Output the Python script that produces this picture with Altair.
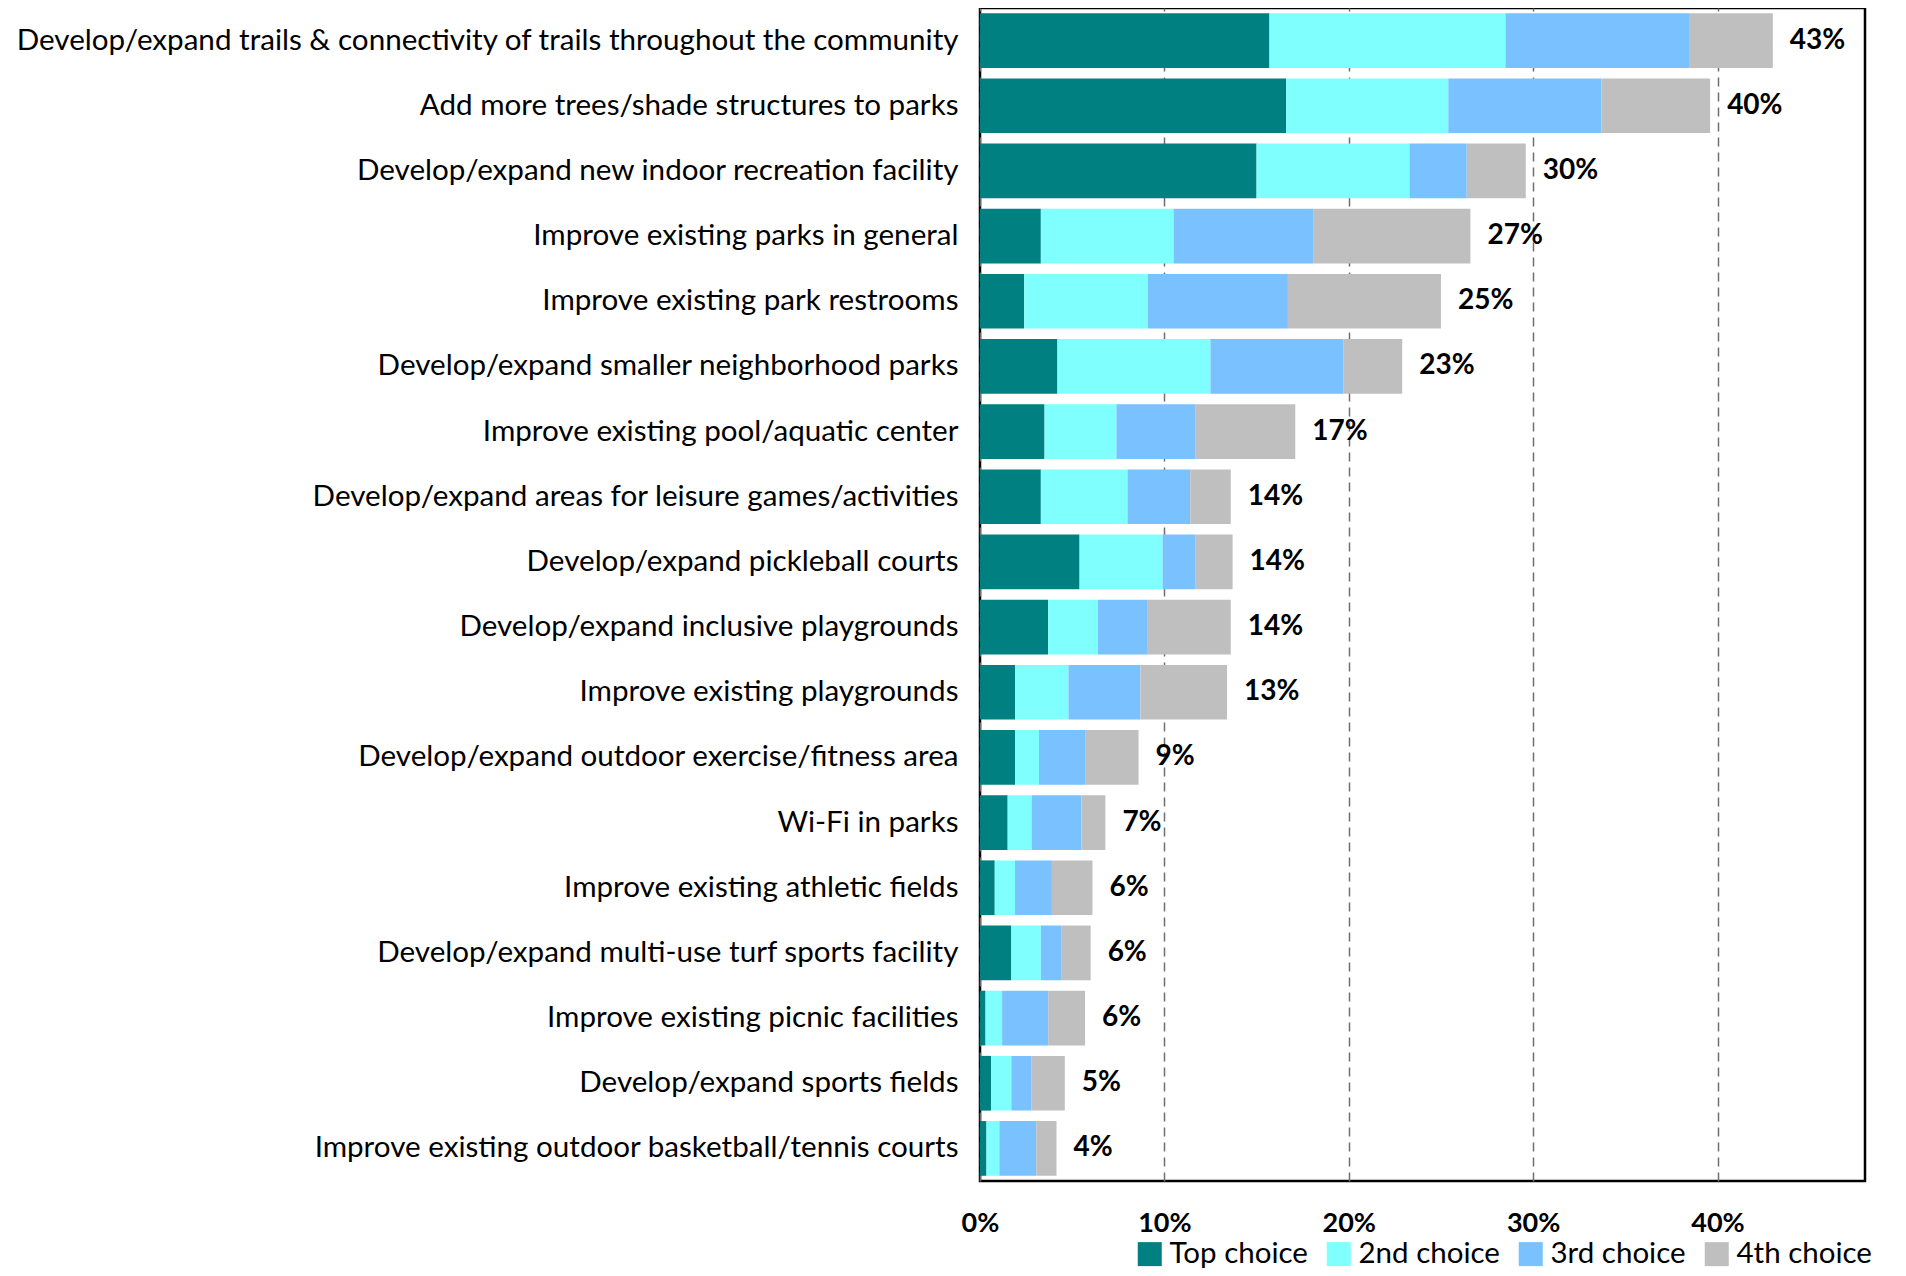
import altair as alt
import pandas as pd

categories = [
    "Develop/expand trails & connectivity of trails throughout the community",
    "Add more trees/shade structures to parks",
    "Develop/expand new indoor recreation facility",
    "Improve existing parks in general",
    "Improve existing park restrooms",
    "Develop/expand smaller neighborhood parks",
    "Improve existing pool/aquatic center",
    "Develop/expand areas for leisure games/activities",
    "Develop/expand pickleball courts",
    "Develop/expand inclusive playgrounds",
    "Improve existing playgrounds",
    "Develop/expand outdoor exercise/fitness area",
    "Wi-Fi in parks",
    "Improve existing athletic fields",
    "Develop/expand multi-use turf sports facility",
    "Improve existing picnic facilities",
    "Develop/expand sports fields",
    "Improve existing outdoor basketball/tennis courts",
]
top_choice = [15.7, 16.6, 15.0, 3.3, 2.4, 4.2, 3.5, 3.3, 5.4, 3.7, 1.9, 1.9, 1.5, 0.8, 1.7, 0.3, 0.6, 0.35]
second_choice = [12.8, 8.8, 8.3, 7.2, 6.7, 8.3, 3.9, 4.7, 4.5, 2.7, 2.9, 1.3, 1.3, 1.1, 1.6, 0.9, 1.1, 0.7]
third_choice = [10.0, 8.3, 3.1, 7.6, 7.6, 7.2, 4.3, 3.4, 1.8, 2.7, 3.9, 2.5, 2.7, 2.0, 1.1, 2.5, 1.1, 2.0]
fourth_choice = [4.5, 5.9, 3.2, 8.5, 8.3, 3.2, 5.4, 2.2, 2.0, 4.5, 4.7, 2.9, 1.3, 2.2, 1.6, 2.0, 1.8, 1.1]

series = ["Top choice", "2nd choice", "3rd choice", "4th choice"]
colors = ["#008080", "#80FFFF", "#79C1FF", "#BFBFBF"]
tick_values = [0, 10, 20, 30, 40]

rows = []
for i, cat in enumerate(categories):
    for k, vals in enumerate([top_choice, second_choice, third_choice, fourth_choice]):
        rows.append({"category": cat, "series": series[k], "order": k, "value": vals[i]})
df = pd.DataFrame(rows)

totals = pd.DataFrame({
    "category": categories,
    "total": [a + b + c + d for a, b, c, d in zip(top_choice, second_choice, third_choice, fourth_choice)],
})
totals["label"] = totals["total"].round().astype(int).astype(str) + "%"

FONT = "Lato"

y_enc = alt.Y(
    "category:N",
    sort=categories,
    scale=alt.Scale(paddingInner=0.16, paddingOuter=0.08),
    axis=alt.Axis(
        title=None, ticks=False, domain=False, labelFont=FONT, labelFontSize=29.6,
        labelColor="#000000", labelPadding=22, labelLimit=1000,
        minExtent=972, maxExtent=972,
    ),
)

x_scale = alt.Scale(domain=[0, 48], nice=False, zero=True)

bars = alt.Chart(df).mark_bar().encode(
    x=alt.X(
        "value:Q", stack="zero", scale=x_scale,
        axis=alt.Axis(
            title=None, values=tick_values, labelExpr="datum.value + '%'",
            grid=True, gridDash=[9, 6], gridColor="#6F6F6F", gridWidth=1.5,
            ticks=False, domain=False, labelFont=FONT, labelFontSize=27,
            labelFontWeight="bold", labelColor="#000000", labelPadding=29,
            labelFlush=False,
        ),
    ),
    y=y_enc,
    color=alt.Color(
        "series:N",
        scale=alt.Scale(domain=series, range=colors),
        legend=alt.Legend(
            title=None, orient="none", direction="horizontal",
            legendX=155, legendY=1231, symbolType="square", symbolSize=576,
            symbolStrokeWidth=0, labelFont=FONT, labelFontSize=29.5,
            labelColor="#000000", labelOffset=5, columnPadding=16, padding=0,
        ),
    ),
    order=alt.Order("order:Q"),
)

labels = alt.Chart(totals).mark_text(
    align="left", baseline="middle", dx=17, font=FONT, fontSize=28,
    fontWeight="bold", color="#000000",
).encode(
    x=alt.X("total:Q", scale=x_scale),
    y=alt.Y("category:N", sort=categories),
    text="label:N",
)

chart = alt.layer(bars, labels).properties(
    width=885, height=1173,
    padding={"left": 0, "top": 0, "right": 0, "bottom": 0},
).configure_view(
    stroke="#000000", strokeWidth=2.5,
)

chart.save("out.html", embed_options={"renderer": "svg", "actions": False})
